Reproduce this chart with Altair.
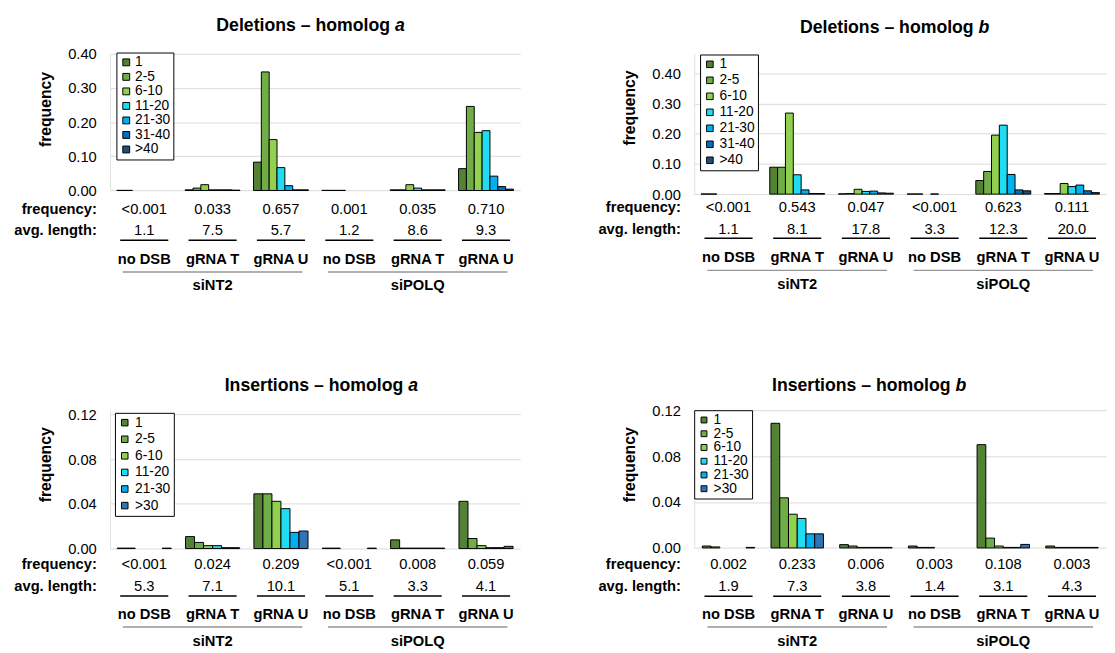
import altair as alt
import pandas as pd

FONT = "Liberation Sans"

GROUPS = ["siNT2", "siPOLQ"]
CONDITIONS = ["no DSB", "gRNA T", "gRNA U"]
DEL_BINS = ["1", "2-5", "6-10", "11-20", "21-30", "31-40", ">40"]
INS_BINS = ["1", "2-5", "6-10", "11-20", "21-30", ">30"]
DEL_COLORS = ["#548235", "#70AD47", "#92D050", "#1FDCF2", "#00B0F0", "#0070C0", "#1F4E79"]
INS_COLORS = ["#548235", "#70AD47", "#92D050", "#1FDCF2", "#00B0F0", "#2E75B6"]

# ---- Deletions - homolog a (one list per condition, one value per length bin; None = no bar)
del_a_nt_nodsb = [0.0005, 0.0005, None, None, None, None, None]
del_a_nt_t = [0.002, 0.007, 0.017, 0.002, 0.002, 0.002, 0.001]
del_a_nt_u = [0.083, 0.347, 0.149, 0.067, 0.014, 0.002, 0.002]
del_a_pq_nodsb = [0.0005, 0.0005, 0.0005, None, None, None, None]
del_a_pq_t = [0.002, 0.002, 0.017, 0.007, 0.002, 0.002, 0.002]
del_a_pq_u = [0.064, 0.246, 0.170, 0.175, 0.042, 0.0115, 0.004]
del_a_freq = ["<0.001", "0.033", "0.657", "0.001", "0.035", "0.710"]
del_a_len = ["1.1", "7.5", "5.7", "1.2", "8.6", "9.3"]

# ---- Deletions - homolog b
del_b_nt_nodsb = [0.0005, 0.0005, None, None, None, None, None]
del_b_nt_t = [0.089, 0.089, 0.268, 0.064, 0.014, 0.002, 0.002]
del_b_nt_u = [0.001, 0.002, 0.016, 0.009, 0.010, 0.004, 0.003]
del_b_pq_nodsb = [0.0005, 0.0005, None, 0.0005, None, None, None]
del_b_pq_t = [0.045, 0.075, 0.195, 0.228, 0.065, 0.014, 0.011]
del_b_pq_u = [0.002, 0.002, 0.035, 0.025, 0.030, 0.011, 0.005]
del_b_freq = ["<0.001", "0.543", "0.047", "<0.001", "0.623", "0.111"]
del_b_len = ["1.1", "8.1", "17.8", "3.3", "12.3", "20.0"]

# ---- Insertions - homolog a
ins_a_nt_nodsb = [0.0004, 0.0004, None, None, None, 0.0004]
ins_a_nt_t = [0.0107, 0.0055, 0.0026, 0.0026, 0.0008, 0.0008]
ins_a_nt_u = [0.049, 0.049, 0.0423, 0.0357, 0.0145, 0.0157]
ins_a_pq_nodsb = [0.0004, 0.0004, None, None, None, 0.0004]
ins_a_pq_t = [0.0078, 0.0004, 0.0004, 0.0004, 0.0004, 0.0004]
ins_a_pq_u = [0.0423, 0.009, 0.0026, 0.0008, 0.0008, 0.002]
ins_a_freq = ["<0.001", "0.024", "0.209", "<0.001", "0.008", "0.059"]
ins_a_len = ["5.3", "7.1", "10.1", "5.1", "3.3", "4.1"]

# ---- Insertions - homolog b
ins_b_nt_nodsb = [0.0017, 0.0009, None, None, None, 0.0005]
ins_b_nt_t = [0.1086, 0.0437, 0.0294, 0.0257, 0.0123, 0.0123]
ins_b_nt_u = [0.0029, 0.0017, 0.0005, 0.0005, 0.0005, 0.0005]
ins_b_pq_nodsb = [0.0017, 0.0005, 0.0005, None, None, None]
ins_b_pq_t = [0.090, 0.0086, 0.0017, 0.0005, 0.0005, 0.0031]
ins_b_pq_u = [0.0017, 0.0005, 0.0005, 0.0005, 0.0005, 0.0005]
ins_b_freq = ["0.002", "0.233", "0.006", "0.003", "0.108", "0.003"]
ins_b_len = ["1.9", "7.3", "3.8", "1.4", "3.1", "4.3"]

SLOTS = [f"{g} | {c}" for g in GROUPS for c in CONDITIONS]


def one_row(text):
    return pd.DataFrame({"t": [text]})


def make_panel(values, bins, colors, freq, length, title, letter, g):
    W, H = g["W"], g["H"]
    rows = []
    for s, vals in zip(SLOTS, values):
        for b, v in zip(bins, vals):
            if v is not None:
                rows.append({"slot": s, "bin": b, "value": v})
    bars_df = pd.DataFrame(rows)
    ann = pd.DataFrame({"slot": SLOTS, "freq": freq, "len": length,
                        "cond": CONDITIONS * 2})
    grp = pd.DataFrame({"slot": [SLOTS[1], SLOTS[4]], "group": GROUPS})

    x = alt.X("slot:N", scale=alt.Scale(domain=SLOTS, paddingInner=0, paddingOuter=0),
              axis=None)

    bars = alt.Chart(bars_df).mark_bar(stroke="black", strokeWidth=1).encode(
        x=x,
        xOffset=alt.XOffset("bin:N", scale=alt.Scale(domain=bins, paddingInner=0,
                                                     paddingOuter=g["pad"])),
        y=alt.Y("value:Q",
                scale=alt.Scale(domain=[0, g["ymax"]], nice=False),
                axis=alt.Axis(values=g["yticks"], format=".2f", grid=True,
                              gridColor="#D9D9D9", gridWidth=1, domain=True,
                              domainColor="#E0E0E0", ticks=False,
                              labelFont=FONT, labelFontSize=15, labelColor="black",
                              labelPadding=14, title="frequency", titleFont=FONT,
                              titleFontSize=16, titleFontWeight="bold",
                              titleColor="black", titleAngle=270,
                              titleAlign="center", titleBaseline="middle",
                              titleX=-66, titleY=g["ty"])),
        fill=alt.Fill("bin:N", scale=alt.Scale(domain=bins, range=colors),
                      legend=alt.Legend(title=None, orient="none",
                                        legendX=g["lx"], legendY=g["ly"],
                                        direction="vertical", strokeColor="black",
                                        fillColor="white", padding=3,
                                        symbolType="square", symbolSize=g["lsz"],
                                        symbolStrokeColor="black",
                                        symbolStrokeWidth=1,
                                        labelFont=FONT, labelFontSize=14,
                                        labelColor="black", labelOffset=g["loff"],
                                        rowPadding=g["lrow"])),
    )

    def row_text(field, dy, bold):
        return alt.Chart(ann).mark_text(
            font=FONT, fontSize=15, fontWeight="bold" if bold else "normal",
            color="black", baseline="middle", align="center"
        ).encode(x=x, y=alt.value(H + dy), text=f"{field}:N")

    def label(text, dy):
        return alt.Chart(one_row(text)).mark_text(
            font=FONT, fontSize=15, fontWeight="bold", color="black",
            baseline="middle", align="right"
        ).encode(x=alt.value(-13.5), y=alt.value(H + dy), text="t:N")

    underline = alt.Chart(ann).mark_tick(
        orient="horizontal", size=49, thickness=1.5, color="black", opacity=1
    ).encode(x=x, y=alt.value(H + g["uline"]))

    gline = alt.Chart(grp).mark_tick(
        orient="horizontal", size=183, thickness=1.5, color="#969696", opacity=1
    ).encode(x=x, y=alt.value(H + g["gline"]))

    glabel = alt.Chart(grp).mark_text(
        font=FONT, fontSize=15, fontWeight="bold", color="black", baseline="middle"
    ).encode(x=x, y=alt.value(H + g["glabel"]), text="group:N")

    t1 = alt.Chart(one_row(title)).mark_text(
        font=FONT, fontSize=18, fontWeight="bold", color="black",
        baseline="alphabetic", align="right"
    ).encode(x=alt.value(g["tx1"]), y=alt.value(g["tyy"]), text="t:N")
    t2 = alt.Chart(one_row(letter)).mark_text(
        font=FONT, fontSize=18, fontWeight="bold", fontStyle="italic", color="black",
        baseline="alphabetic", align="left"
    ).encode(x=alt.value(g["tx1"] + 5), y=alt.value(g["tyy"]), text="t:N")

    return alt.layer(
        bars,
        row_text("freq", g["freq"], False),
        row_text("len", g["len"], False),
        row_text("cond", g["cond"], True),
        underline, gline, glabel,
        label("frequency:", g["freq"]), label("avg. length:", g["len"]),
        t1, t2,
    ).properties(width=W, height=H)


G1 = dict(W=418, H=139.3, ymax=0.4, yticks=[0, 0.1, 0.2, 0.3, 0.4], pad=0.856,
          ty=56.3, lx=6.5, ly=-1.3, lsz=49, loff=2, lrow=0.8,
          freq=18.6, len=39.9, uline=50.7, cond=69.9, gline=83, glabel=96.6,
          tx1=285.3, tyy=-23.7)
G2 = dict(W=420, H=143, ymax=0.4639, yticks=[0, 0.1, 0.2, 0.3, 0.4], pad=0.875,
          ty=54.7, lx=6, ly=0.7, lsz=45, loff=2.8, lrow=2.3,
          freq=13.2, len=35.9, uline=45, cond=64.2, gline=77.7, glabel=91.9,
          tx1=284.8, tyy=-21.3)
G3 = dict(W=418, H=141, ymax=0.12387, yticks=[0, 0.04, 0.08, 0.12], pad=0.79,
          ty=55.2, lx=5, ly=2.7, lsz=44, loff=3.5, lrow=2.9,
          freq=15.9, len=38.3, uline=48.4, cond=66.9, gline=80, glabel=94.3,
          tx1=298.8, tyy=-19.6)
G4 = dict(W=420, H=140.4, ymax=0.12, yticks=[0, 0.04, 0.08, 0.12], pad=0.93,
          ty=55.2, lx=0, ly=0, lsz=36, loff=2.8, lrow=0.0,
          freq=16.5, len=39.2, uline=49.3, cond=67.5, gline=80.6, glabel=94.9,
          tx1=261.3, tyy=-19.6)

p1 = make_panel([del_a_nt_nodsb, del_a_nt_t, del_a_nt_u, del_a_pq_nodsb, del_a_pq_t, del_a_pq_u],
                DEL_BINS, DEL_COLORS, del_a_freq, del_a_len, "Deletions – homolog", "a", G1)
p2 = make_panel([del_b_nt_nodsb, del_b_nt_t, del_b_nt_u, del_b_pq_nodsb, del_b_pq_t, del_b_pq_u],
                DEL_BINS, DEL_COLORS, del_b_freq, del_b_len, "Deletions – homolog", "b", G2)
p3 = make_panel([ins_a_nt_nodsb, ins_a_nt_t, ins_a_nt_u, ins_a_pq_nodsb, ins_a_pq_t, ins_a_pq_u],
                INS_BINS, INS_COLORS, ins_a_freq, ins_a_len, "Insertions – homolog", "a", G3)
p4 = make_panel([ins_b_nt_nodsb, ins_b_nt_t, ins_b_nt_u, ins_b_pq_nodsb, ins_b_pq_t, ins_b_pq_u],
                INS_BINS, INS_COLORS, ins_b_freq, ins_b_len, "Insertions – homolog", "b", G4)

RES = dict(x="independent", y="independent", xOffset="independent", fill="independent")


def row(a, b):
    return alt.hconcat(a, b, spacing=79.3).resolve_scale(**RES).resolve_legend(
        fill="independent")


chart = alt.vconcat(row(p1, p2), row(p3, p4), spacing=85.2).resolve_scale(
    **RES).resolve_legend(fill="independent").properties(
    padding={"left": 6, "top": 2.5, "right": 0, "bottom": 0}
).configure_view(stroke=None)

chart.save("out.html", embed_options={"renderer": "svg", "actions": False})
